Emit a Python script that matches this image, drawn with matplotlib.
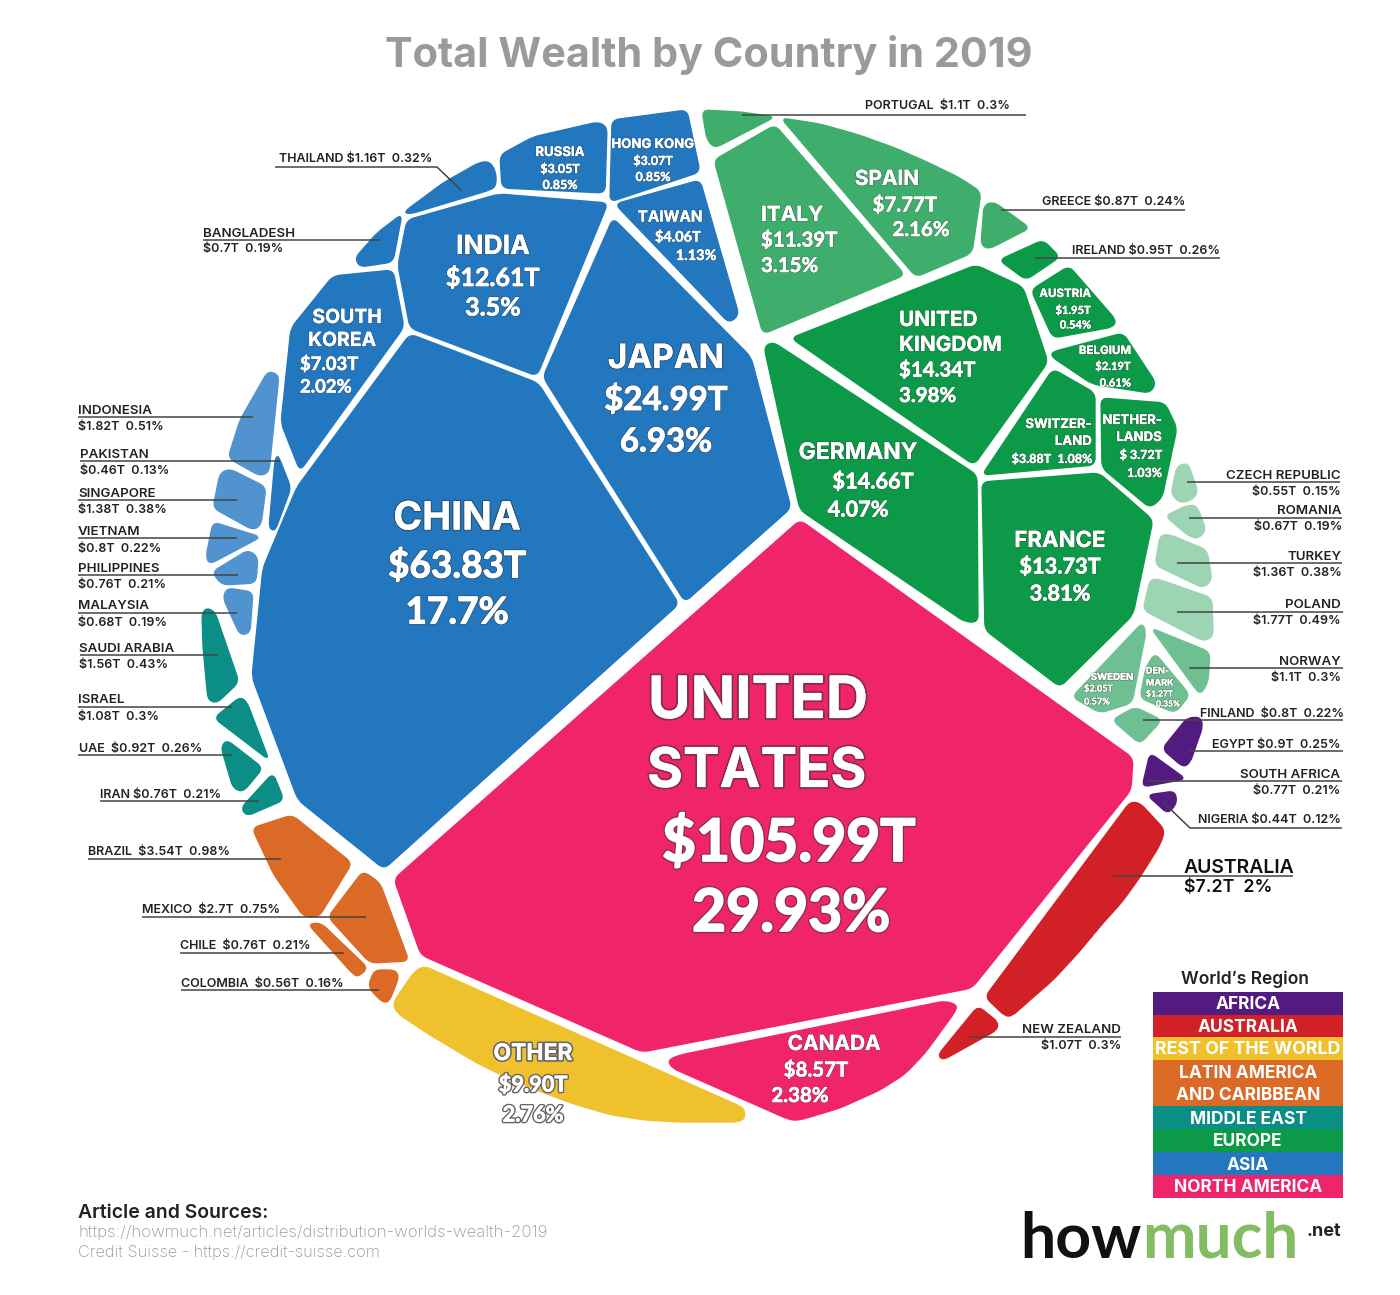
#!/usr/bin/env python3
# Total wealth by country, 2019 - voronoi style treemap, outlines
import matplotlib

matplotlib.use("Agg")
import matplotlib.pyplot as plt
import matplotlib.patheffects as pe
from matplotlib.path import Path
from matplotlib.patches import PathPatch

plt.rcParams["font.family"] = ["Inter", "DejaVu Sans"]

WEALTH = {
    "UNITED STATES": "$105.99T", "CHINA": "$63.83T", "JAPAN": "$24.99T", "INDIA": "$12.61T",
    "SOUTH KOREA": "$7.03T", "RUSSIA": "$3.05T", "HONG KONG": "$3.07T", "TAIWAN": "$4.06T",
    "THAILAND": "$1.16T", "BANGLADESH": "$0.7T", "INDONESIA": "$1.82T", "PAKISTAN": "$0.46T",
    "SINGAPORE": "$1.38T", "VIETNAM": "$0.8T", "PHILIPPINES": "$0.76T", "MALAYSIA": "$0.68T",
    "SAUDI ARABIA": "$1.56T", "ISRAEL": "$1.08T", "UAE": "$0.92T", "IRAN": "$0.76T",
    "BRAZIL": "$3.54T", "MEXICO": "$2.7T", "CHILE": "$0.76T", "COLOMBIA": "$0.56T",
    "OTHER": "$9.90T", "CANADA": "$8.57T", "AUSTRALIA": "$7.2T", "NEW ZEALAND": "$1.07T",
    "PORTUGAL": "$1.1T", "ITALY": "$11.39T", "SPAIN": "$7.77T", "GREECE": "$0.87T",
    "IRELAND": "$0.95T", "AUSTRIA": "$1.95T", "BELGIUM": "$2.19T", "UNITED KINGDOM": "$14.34T",
    "SWITZERLAND": "$3.88T", "NETHERLANDS": "$3.72T", "GERMANY": "$14.66T", "FRANCE": "$13.73T",
    "CZECH REPUBLIC": "$0.55T", "ROMANIA": "$0.67T", "TURKEY": "$1.36T", "POLAND": "$1.77T",
    "NORWAY": "$1.1T", "DENMARK": "$1.27T", "SWEDEN": "$2.05T", "FINLAND": "$0.8T",
    "EGYPT": "$0.9T", "SOUTH AFRICA": "$0.77T", "NIGERIA": "$0.44T",
}
SHARE = {
    "UNITED STATES": "29.93%", "CHINA": "17.7%", "JAPAN": "6.93%", "INDIA": "3.5%",
    "SOUTH KOREA": "2.02%", "RUSSIA": "0.85%", "HONG KONG": "0.85%", "TAIWAN": "1.13%",
    "THAILAND": "0.32%", "BANGLADESH": "0.19%", "INDONESIA": "0.51%", "PAKISTAN": "0.13%",
    "SINGAPORE": "0.38%", "VIETNAM": "0.22%", "PHILIPPINES": "0.21%", "MALAYSIA": "0.19%",
    "SAUDI ARABIA": "0.43%", "ISRAEL": "0.3%", "UAE": "0.26%", "IRAN": "0.21%",
    "BRAZIL": "0.98%", "MEXICO": "0.75%", "CHILE": "0.21%", "COLOMBIA": "0.16%",
    "OTHER": "2.76%", "CANADA": "2.38%", "AUSTRALIA": "2%", "NEW ZEALAND": "0.3%",
    "PORTUGAL": "0.3%", "ITALY": "3.15%", "SPAIN": "2.16%", "GREECE": "0.24%",
    "IRELAND": "0.26%", "AUSTRIA": "0.54%", "BELGIUM": "0.61%", "UNITED KINGDOM": "3.98%",
    "SWITZERLAND": "1.08%", "NETHERLANDS": "1.03%", "GERMANY": "4.07%", "FRANCE": "3.81%",
    "CZECH REPUBLIC": "0.15%", "ROMANIA": "0.19%", "TURKEY": "0.38%", "POLAND": "0.49%",
    "NORWAY": "0.3%", "DENMARK": "0.35%", "SWEDEN": "0.57%", "FINLAND": "0.22%",
    "EGYPT": "0.25%", "SOUTH AFRICA": "0.21%", "NIGERIA": "0.12%",
}

REGIONS = ["AFRICA", "AUSTRALIA", "REST OF THE WORLD", "LATIN AMERICA\nAND CARIBBEAN",
           "MIDDLE EAST", "EUROPE", "ASIA", "NORTH AMERICA"]

BLUE, BLUE2 = "#2277BF", "#5093CE"
PINK, RED, YELLOW = "#F0246B", "#D22027", "#EFC12D"
ORANGE, TEAL, PURPLE = "#DB6A26", "#0A8E85", "#531B80"
GREEN, GREEN2, GREEN3, GREEN4 = "#0C9A48", "#3FAE6C", "#6EC092", "#9CD4B4"
REGION_COLORS = [PURPLE, RED, YELLOW, ORANGE, TEAL, GREEN, BLUE, PINK]
REGION_EDGES = [992, 1014.5, 1037, 1060, 1106, 1129, 1152, 1175, 1198]

OUTLINES = {
    "UNITED STATES": (PINK, [(800, 520), (1133, 758), (1131, 790), (972, 988), (642, 1052), (421, 955), (394, 879)]),
    "CANADA": (PINK, [(668, 1060), (680, 1055), (945, 1001), (957, 1005), (955, 1012), (925, 1053), (905, 1074),
                      (880, 1090), (840, 1108), (800, 1120), (790, 1120), (672, 1068)]),
    "CHINA": (BLUE, [(410, 334), (538, 383), (679, 604), (384, 869), (298, 800), (252, 677), (263, 568), (297, 487)]),
    "JAPAN": (BLUE, [(613, 218), (751, 357), (791, 508), (685, 602), (543, 377)]),
    "INDIA": (BLUE, [(499, 194), (608, 203), (537, 376), (410, 328), (398, 265), (407, 220)]),
    "SOUTH KOREA": (BLUE, [(333, 276), (393, 270), (404, 327), (300, 471), (281, 423), (291, 328)]),
    "BANGLADESH": (BLUE, [(402, 214), (393, 262), (360, 267), (355, 258), (377, 233)]),
    "THAILAND": (BLUE, [(404, 212), (443, 183), (480, 162), (490, 162), (496, 172), (496, 186), (490, 190), (410, 214)]),
    "RUSSIA": (BLUE, [(500, 155), (533, 137), (598, 122), (607, 127), (605, 193), (502, 188)]),
    "HONG KONG": (BLUE, [(612, 120), (687, 110), (700, 172), (610, 202)]),
    "TAIWAN": (BLUE, [(615, 204), (700, 180), (739, 315), (729, 323)]),
    "INDONESIA": (BLUE2, [(268, 371), (279, 375), (269, 472), (260, 476), (228, 458), (240, 420)]),
    "PAKISTAN": (BLUE, [(278, 455), (291, 488), (275, 531), (269, 528), (275, 460)]),
    "SINGAPORE": (BLUE2, [(230, 469), (266, 487), (261, 525), (253, 530), (213, 508), (220, 473)]),
    "VIETNAM": (BLUE2, [(213, 522), (261, 537), (210, 564), (206, 557)]),
    "PHILIPPINES": (BLUE2, [(248, 550), (258, 557), (256, 583), (222, 585), (212, 572)]),
    "MALAYSIA": (BLUE2, [(227, 588), (253, 592), (250, 633), (240, 635), (223, 598)]),
    "SAUDI ARABIA": (TEAL, [(202, 613), (207, 608), (215, 612), (239, 682), (217, 703), (208, 700), (203, 647)]),
    "ISRAEL": (TEAL, [(214, 718), (240, 697), (247, 702), (269, 760)]),
    "UAE": (TEAL, [(227, 740), (263, 768), (243, 792), (233, 788), (221, 747)]),
    "IRAN": (TEAL, [(273, 773), (284, 800), (247, 816), (241, 808)]),
    "BRAZIL": (ORANGE, [(252, 828), (292, 815), (352, 863), (319, 917), (304, 917), (274, 875)]),
    "MEXICO": (ORANGE, [(363, 871), (380, 883), (409, 961), (370, 963), (328, 917)]),
    "CHILE": (ORANGE, [(308, 924), (321, 923), (368, 968), (358, 977), (352, 973)]),
    "COLOMBIA": (ORANGE, [(374, 970), (395, 970), (399, 977), (389, 1002), (382, 1002), (368, 987)]),
    "OTHER": (YELLOW, [(414, 972), (424, 966), (744, 1108), (745, 1118), (738, 1122), (679, 1122), (645, 1120),
                       (612, 1115), (577, 1105), (544, 1093), (510, 1079), (477, 1063), (430, 1035),
                       (397, 1013), (393, 1003)]),
    "AUSTRALIA": (RED, [(1130, 802), (1140, 803), (1165, 830), (1160, 845), (1140, 877), (1122, 902), (1103, 923),
                        (1078, 953), (1053, 980), (1030, 1000), (1012, 1016), (1005, 1016), (985, 997)]),
    "NEW ZEALAND": (RED, [(978, 1006), (998, 1022), (997, 1030), (943, 1060), (938, 1055)]),
    "PORTUGAL": (GREEN2, [(702, 110), (741, 112), (775, 117), (715, 148), (707, 140)]),
    "ITALY": (GREEN2, [(775, 125), (905, 275), (763, 334), (714, 160)]),
    "SPAIN": (GREEN2, [(781, 118), (820, 124), (859, 135), (895, 148), (927, 162), (960, 178), (981, 192),
                       (972, 253), (916, 277)]),
    "GREECE": (GREEN2, [(994, 202), (1030, 228), (989, 249), (981, 245), (984, 205)]),
    "IRELAND": (GREEN, [(999, 260), (1043, 240), (1060, 257), (1026, 280)]),
    "AUSTRIA": (GREEN, [(1031, 290), (1069, 266), (1116, 320), (1113, 327), (1053, 338)]),
    "BELGIUM": (GREEN, [(1052, 352), (1123, 333), (1156, 383), (1150, 393), (1092, 384), (1052, 357)]),
    "UNITED KINGDOM": (GREEN, [(791, 338), (976, 265), (1023, 287), (1048, 362), (974, 465)]),
    "SWITZERLAND": (GREEN, [(1053, 369), (1095, 393), (1095, 465), (982, 475)]),
    "NETHERLANDS": (GREEN, [(1101, 398), (1165, 403), (1177, 428), (1162, 498), (1150, 508), (1102, 468)]),
    "GERMANY": (GREEN, [(764, 347), (773, 342), (977, 475), (978, 622), (965, 622), (800, 510)]),
    "FRANCE": (GREEN, [(982, 482), (1099, 473), (1153, 520), (1133, 615), (1060, 687), (985, 630)]),
    "CZECH REPUBLIC": (GREEN4, [(1177, 466), (1188, 463), (1198, 492), (1192, 500), (1180, 503), (1171, 494)]),
    "ROMANIA": (GREEN4, [(1165, 516), (1188, 505), (1197, 506), (1206, 530), (1199, 538), (1190, 537)]),
    "TURKEY": (GREEN4, [(1160, 536), (1168, 534), (1207, 550), (1212, 580), (1203, 588), (1155, 565)]),
    "POLAND": (GREEN4, [(1150, 580), (1158, 579), (1212, 598), (1213, 637), (1203, 641), (1143, 610)]),
    "NORWAY": (GREEN3, [(1151, 628), (1210, 652), (1208, 683), (1200, 695)]),
    "DENMARK": (GREEN3, [(1155, 653), (1190, 695), (1175, 713), (1140, 698), (1146, 667)]),
    "SWEDEN": (GREEN3, [(1142, 623), (1146, 632), (1132, 703), (1100, 713), (1072, 697)]),
    "FINLAND": (GREEN3, [(1135, 707), (1162, 720), (1140, 744), (1112, 720)]),
    "EGYPT": (PURPLE, [(1187, 718), (1200, 717), (1203, 726), (1190, 763), (1183, 767), (1162, 749)]),
    "SOUTH AFRICA": (PURPLE, [(1150, 753), (1186, 779), (1142, 787)]),
    "NIGERIA": (PURPLE, [(1147, 795), (1175, 791), (1177, 803), (1168, 814)]),
}

# labels inside the cells: country -> (text, x, y, size, ha); {w} and {s} come from WEALTH / SHARE
INSIDE = {
    "UNITED STATES": [("UNITED", 648, 701, 42, "left"), ("STATES", 647, 771, 39.5, "left"),
                      ("{w}", 662, 841, 44.5, "left"), ("{s}", 692, 912, 44.5, "left")],
    "CHINA": [("CHINA", 457, 517, 28, "center"), ("{w}", 457, 564, 28, "center"), ("{s}", 457, 611, 28, "center")],
    "JAPAN": [("JAPAN", 666, 357, 24, "center"), ("{w}", 666, 398, 25, "center"), ("{s}", 666, 440, 25, "center")],
    "INDIA": [("INDIA", 493, 245, 19, "center"), ("{w}", 493, 276, 19, "center"), ("{s}", 493, 306, 19, "center")],
    "SOUTH KOREA": [("SOUTH", 347, 316, 14, "center"), ("KOREA", 342, 339, 14, "center"),
                    ("{w}", 300, 362, 14, "left"), ("{s}", 300, 385, 14, "left")],
    "RUSSIA": [("RUSSIA", 560, 151, 9.5, "center"), ("{w}", 560, 167, 9.5, "center"), ("{s}", 560, 183, 9.5, "center")],
    "HONG KONG": [("HONG KONG", 653, 143, 9.5, "center"), ("{w}", 653, 159, 9.5, "center"), ("{s}", 653, 175, 9.5, "center")],
    "TAIWAN": [("TAIWAN", 670, 215, 11, "center"), ("{w}", 678, 235, 11, "center"), ("{s}", 696, 254, 11, "center")],
    "ITALY": [("ITALY", 761, 213, 15, "left"), ("{w}", 761, 238, 15.5, "left"), ("{s}", 761, 264, 15.5, "left")],
    "SPAIN": [("SPAIN", 887, 177, 15, "center"), ("{w}", 905, 203, 15.5, "center"), ("{s}", 921, 228, 15.5, "center")],
    "UNITED KINGDOM": [("UNITED", 899, 318, 15, "left"), ("KINGDOM", 899, 343, 15, "left"),
                       ("{w}", 899, 368, 15.5, "left"), ("{s}", 899, 394, 15.5, "left")],
    "GERMANY": [("GERMANY", 858, 451, 16.5, "center"), ("{w}", 873, 480, 16.5, "center"), ("{s}", 858, 508, 16.5, "center")],
    "FRANCE": [("FRANCE", 1060, 539, 16, "center"), ("{w}", 1060, 565, 16.5, "center"), ("{s}", 1060, 592, 16.5, "center")],
    "AUSTRIA": [("AUSTRIA", 1091, 292, 8.3, "right"), ("{w}", 1091, 308, 8.5, "right"), ("{s}", 1091, 323, 8.5, "right")],
    "BELGIUM": [("BELGIUM", 1131, 349, 8.3, "right"), ("{w}", 1131, 364, 8.5, "right"), ("{s}", 1131, 381, 8.5, "right")],
    "SWITZERLAND": [("SWITZER-", 1092, 423, 9.5, "right"), ("LAND", 1092, 440, 9.5, "right"), ("{w}  {s}", 1092, 457, 9.5, "right")],
    "NETHERLANDS": [("NETHER-", 1162, 419, 9.5, "right"), ("LANDS", 1162, 436, 9.5, "right"),
                    ("$ 3.72T", 1162, 453, 9.5, "right"), ("{s}", 1162, 471, 9.5, "right")],
    "SWEDEN": [("SWEDEN", 1112, 675, 7, "center"), ("{w}", 1084, 687, 7, "left"), ("{s}", 1084, 700, 7, "left")],
    "DENMARK": [("DEN-", 1146, 669, 6.5, "left"), ("MARK", 1146, 681, 6.5, "left"),
                ("{w}", 1146, 692, 6.5, "left"), ("{s}", 1156, 702, 6.5, "left")],
    "CANADA": [("CANADA", 834, 1042, 15, "center"), ("{w}", 816, 1068, 15.5, "center"), ("{s}", 800, 1094, 15.5, "center")],
    "OTHER": [("OTHER", 533, 1052, 16.5, "center"), ("{w}", 533, 1083, 16.5, "center"), ("{s}", 533, 1113, 16.5, "center")],
}

# labels outside the circle: country -> (text, x, y, ha)
OUTSIDE = {
    "THAILAND": [("THAILAND {w}  {s}", 279, 157, "left")],
    "BANGLADESH": [("BANGLADESH", 203, 232, "left"), ("{w}  {s}", 203, 247, "left")],
    "INDONESIA": [("INDONESIA", 78, 409, "left"), ("{w}  {s}", 78, 425, "left")],
    "PAKISTAN": [("PAKISTAN", 80, 453, "left"), ("{w}  {s}", 80, 469, "left")],
    "SINGAPORE": [("SINGAPORE", 78, 492, "left"), ("{w}  {s}", 78, 508, "left")],
    "VIETNAM": [("VIETNAM", 78, 530, "left"), ("{w}  {s}", 78, 547, "left")],
    "PHILIPPINES": [("PHILIPPINES", 78, 567, "left"), ("{w}  {s}", 78, 583, "left")],
    "MALAYSIA": [("MALAYSIA", 78, 604, "left"), ("{w}  {s}", 78, 621, "left")],
    "SAUDI ARABIA": [("SAUDI ARABIA", 79, 647, "left"), ("{w}  {s}", 79, 663, "left")],
    "ISRAEL": [("ISRAEL", 78, 698, "left"), ("{w}  {s}", 78, 715, "left")],
    "UAE": [("UAE  {w}  {s}", 79, 747, "left")],
    "IRAN": [("IRAN {w}  {s}", 100, 793, "left")],
    "BRAZIL": [("BRAZIL  {w}  {s}", 88, 850, "left")],
    "MEXICO": [("MEXICO  {w}  {s}", 142, 908, "left")],
    "CHILE": [("CHILE  {w}  {s}", 180, 944, "left")],
    "COLOMBIA": [("COLOMBIA  {w}  {s}", 181, 982, "left")],
    "PORTUGAL": [("PORTUGAL  {w}  {s}", 1010, 104, "right")],
    "GREECE": [("GREECE {w}  {s}", 1185, 200, "right")],
    "IRELAND": [("IRELAND {w}  {s}", 1220, 249, "right")],
    "CZECH REPUBLIC": [("CZECH REPUBLIC", 1341, 474, "right"), ("{w}  {s}", 1341, 490, "right")],
    "ROMANIA": [("ROMANIA", 1342, 509, "right"), ("{w}  {s}", 1342, 525, "right")],
    "TURKEY": [("TURKEY", 1342, 555, "right"), ("{w}  {s}", 1342, 571, "right")],
    "POLAND": [("POLAND", 1341, 603, "right"), ("{w}  {s}", 1341, 619, "right")],
    "NORWAY": [("NORWAY", 1341, 660, "right"), ("{w}  {s}", 1341, 676, "right")],
    "FINLAND": [("FINLAND  {w}  {s}", 1344, 712, "right")],
    "EGYPT": [("EGYPT {w}  {s}", 1341, 743, "right")],
    "SOUTH AFRICA": [("SOUTH AFRICA", 1340, 773, "right"), ("{w}  {s}", 1340, 789, "right")],
    "NIGERIA": [("NIGERIA {w}  {s}", 1341, 818, "right")],
    "NEW ZEALAND": [("NEW ZEALAND", 1121, 1028, "right"), ("{w}  {s}", 1121, 1044, "right")],
}

LEADERS = [
    [(275, 167), (437, 167), (462, 191)], [(203, 240), (380, 240)], [(78, 417), (253, 417)],
    [(80, 461), (280, 461)], [(78, 500), (237, 500)], [(78, 538), (237, 538)], [(78, 575), (238, 575)],
    [(78, 613), (237, 613)], [(80, 655), (218, 655)], [(78, 707), (232, 707)], [(78, 755), (232, 755)],
    [(100, 801), (259, 801)], [(88, 859), (281, 859)], [(142, 917), (366, 917)], [(180, 953), (344, 953)],
    [(181, 990), (379, 990)], [(742, 115), (1026, 115)], [(1001, 210), (1185, 210)],
    [(1035, 258), (1220, 258)], [(1187, 482), (1340, 482)], [(1189, 518), (1342, 518)],
    [(1177, 563), (1342, 563)], [(1177, 612), (1343, 612)], [(1189, 668), (1343, 668)],
    [(1143, 720), (1343, 720)], [(1189, 751), (1343, 751)], [(1148, 781), (1342, 781)],
    [(1163, 802), (1190, 828), (1342, 828)], [(1112, 876), (1293, 876)], [(969, 1037), (1121, 1037)],
]

TEXT_DROP = 2  # va="center" sits a little high with these fonts


def rounded_path(pts, r):
    """Closed polygon path with its corners rounded by quadratic beziers."""
    verts, codes = [], []
    n = len(pts)
    for i in range(n):
        px, py = pts[i - 1]
        cx, cy = pts[i]
        nx, ny = pts[(i + 1) % n]
        d0 = ((cx - px) ** 2 + (cy - py) ** 2) ** 0.5
        d1 = ((nx - cx) ** 2 + (ny - cy) ** 2) ** 0.5
        t0 = min(r, d0 * 0.45) / d0
        t1 = min(r, d1 * 0.45) / d1
        a = (cx + (px - cx) * t0, cy + (py - cy) * t0)
        b = (cx + (nx - cx) * t1, cy + (ny - cy) * t1)
        verts.append(a)
        codes.append(Path.MOVETO if i == 0 else Path.LINETO)
        verts += [(cx, cy), b]
        codes += [Path.CURVE3, Path.CURVE3]
    verts.append(verts[0])
    codes.append(Path.CLOSEPOLY)
    return Path(verts, codes)


fig = plt.figure(figsize=(14, 12.95), dpi=100)
ax = fig.add_axes([0, 0, 1, 1])
ax.set_xlim(0, 1400)
ax.set_ylim(1295, 0)
ax.axis("off")

for name, (color, pts) in OUTLINES.items():
    ax.add_patch(PathPatch(rounded_path(pts, 7), facecolor=color, edgecolor=color, lw=1.0,
                           joinstyle="round", zorder=2))

for pts in LEADERS:
    ax.plot([p[0] for p in pts], [p[1] for p in pts], color="#444444", lw=1.1, zorder=3,
            solid_capstyle="butt")

for name, lines in INSIDE.items():
    for text, x, y, size, ha in lines:
        # the numbers run narrower than Inter in the original
        is_number = "{" in text or "$" in text
        family = ["Lato", "DejaVu Sans"] if is_number else ["Inter", "DejaVu Sans"]
        t = ax.text(x, y + TEXT_DROP, text.format(w=WEALTH[name], s=SHARE[name]),
                    fontsize=size * 0.95 if is_number else size, ha=ha, va="center",
                    color="white", fontweight="bold", family=family, zorder=5)
        if name == "OTHER":
            outline = pe.Stroke(linewidth=2.6, foreground="#666666")
        else:
            outline = pe.Stroke(linewidth=max(1.0, size * 0.07), foreground="#333333", alpha=0.55)
        fatten = pe.Stroke(linewidth=size * 0.03 if is_number else 0.2, foreground="white")
        t.set_path_effects([outline, fatten, pe.Normal()])

for name, lines in OUTSIDE.items():
    for text, x, y, ha in lines:
        ax.text(x, y + TEXT_DROP, text.format(w=WEALTH[name], s=SHARE[name]),
                fontsize=9 if "{" in text else 9.6, ha=ha, va="center",
                color="#222222", fontweight="semibold", zorder=5)

ax.text(1184, 868, "AUSTRALIA", fontsize=14, ha="left", va="center", color="#111111", fontweight="semibold")
ax.text(1184, 888, f"{WEALTH['AUSTRALIA']}  {SHARE['AUSTRALIA']}", fontsize=12.8, ha="left", va="center",
        color="#111111", fontweight="semibold")

ax.text(709, 55, "Total Wealth by Country in 2019", fontsize=29.8, ha="center", va="center",
        color="#9A9A9A", fontweight="bold")

# legend
ax.text(1245, 979, "World\u2019s Region", fontsize=12.5, ha="center", va="center", color="#222222",
        fontweight="semibold")
for i, (region, color) in enumerate(zip(REGIONS, REGION_COLORS)):
    top, bottom = REGION_EDGES[i], REGION_EDGES[i + 1]
    ax.bar(1248, bottom - top, width=190, bottom=top, color=color, zorder=2)
    size = 12.8 if region == "REST OF THE WORLD" else 12.5
    ax.text(1248, (top + bottom) / 2 + 1.5, region, fontsize=size, ha="center", va="center", color="white",
            fontweight="bold", linespacing=1.35, zorder=3)

# footer
ax.text(78, 1213, "Article and Sources:", fontsize=14, ha="left", va="center", color="#222222",
        fontweight="semibold")
ax.text(78, 1233, "https://howmuch.net/articles/distribution-worlds-wealth-2019", fontsize=12.1,
        ha="left", va="center", color="#999999", fontweight="light")
ax.text(78, 1253, "Credit Suisse - https://credit-suisse.com", fontsize=11.8, ha="left", va="center",
        color="#999999", fontweight="light")

# logo
ax.text(1020, 1258, "how", fontsize=45, ha="left", va="baseline", color="#111111", fontweight="bold",
        family=["Lato", "DejaVu Sans"])
ax.text(1142, 1258, "much", fontsize=46, ha="left", va="baseline", color="#83BC62", fontweight="bold",
        family=["Lato", "DejaVu Sans"])
ax.text(1306, 1236, ".net", fontsize=13, ha="left", va="baseline", color="#222222", fontweight="bold")

fig.savefig("out.png", dpi=100, facecolor="white")
